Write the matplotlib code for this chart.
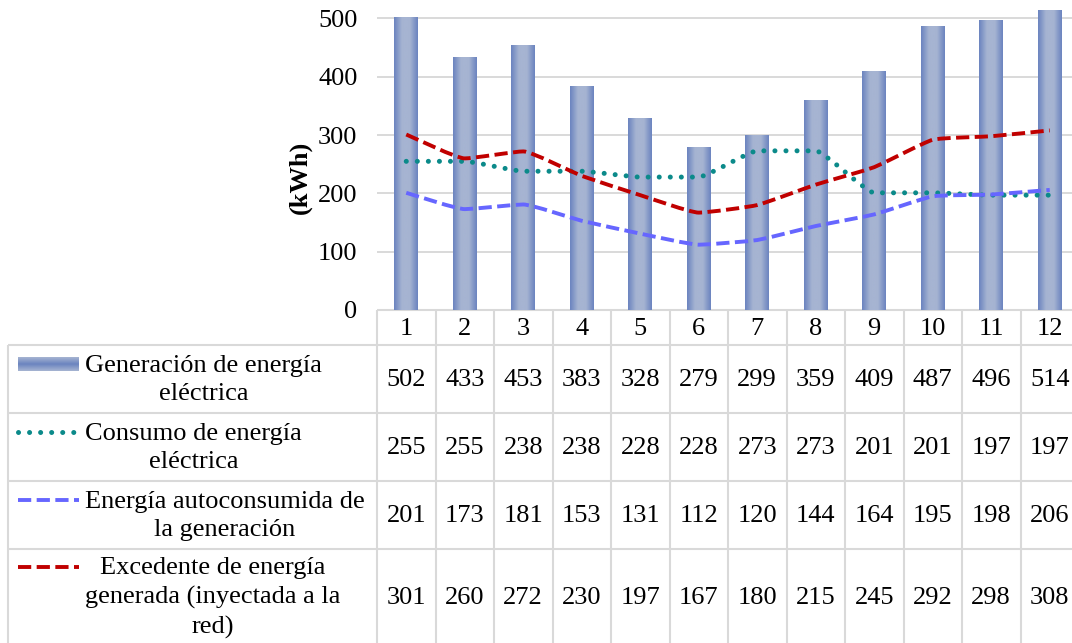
import numpy as np
import matplotlib
matplotlib.use("Agg")
import matplotlib.pyplot as plt
from matplotlib.path import Path
from matplotlib.patches import PathPatch
from matplotlib.colors import LinearSegmentedColormap
import matplotlib.transforms as mtransforms

# ---- data ----
months = list(range(1, 13))
generacion = [502, 433, 453, 383, 328, 279, 299, 359, 409, 487, 496, 514]
consumo = [255, 255, 238, 238, 228, 228, 273, 273, 201, 201, 197, 197]
autoconsumo = [201, 173, 181, 153, 131, 112, 120, 144, 164, 195, 198, 206]
excedente = [301, 260, 272, 230, 197, 167, 180, 215, 245, 292, 298, 308]

series_labels = [
    "Generación de energía\neléctrica",
    "Consumo de energía\neléctrica",
    "Energía autoconsumida de\nla generación",
    "Excedente de energía\ngenerada (inyectada a la\nred)",
]
y_ticks = [0, 100, 200, 300, 400, 500]
y_label = "(kWh)"

plt.rcParams["font.family"] = ["Liberation Serif", "DejaVu Serif"]
FS = 19
GRID = "#D9D9D9"
BAR_EDGE = "#6B84BF"
BAR_MID = "#A6B4D2"
TEAL = "#0B8A8A"
BLUE = "#6666FF"
RED = "#C00000"

W, H = 1072, 643
fig = plt.figure(figsize=(W / 100, H / 100), dpi=100)

# pixel-space overlay used for the data table underneath the chart
tab = fig.add_axes([0, 0, 1, 1], zorder=0)
tab.set_xlim(0, W)
tab.set_ylim(H, 0)
tab.axis("off")

# plot area
px_left, px_right, px_bottom = 377, 1079, 310
ax = fig.add_axes([px_left / W, (H - px_bottom) / H,
                   (px_right - px_left) / W, px_bottom / H], zorder=1)
ax.patch.set_alpha(0)

# bars with a horizontal gradient fill
cmap = LinearSegmentedColormap.from_list("barfill", [BAR_EDGE, BAR_MID, BAR_MID, BAR_EDGE])
grad = np.linspace(0, 1, 64).reshape(1, -1)
bars = ax.bar(months, generacion, width=0.41, color="none", edgecolor="none", zorder=2)
for b in bars:
    x0, w, h = b.get_x(), b.get_width(), b.get_height()
    ax.imshow(grad, cmap=cmap, extent=[x0, x0 + w, 0, h], aspect="auto",
              interpolation="bicubic", zorder=2)


def smooth_path(xs, ys, reach=0.14):
    """Lightly rounded line through the points: cubic Bezier segments whose
    handles follow the local slope (flat at turning points) and extend only
    a fraction `reach` of the segment width."""
    x = np.asarray(xs, float)
    y = np.asarray(ys, float)
    n = len(x)
    hseg = np.diff(x)
    d = np.diff(y) / hseg
    m = np.zeros(n)
    m[0], m[-1] = d[0], d[-1]
    for k in range(1, n - 1):
        if d[k - 1] * d[k] > 0:
            m[k] = 0.5 * (d[k - 1] + d[k])
    verts = [(x[0], y[0])]
    codes = [Path.MOVETO]
    for i in range(n - 1):
        hh = hseg[i] * reach
        verts += [(x[i] + hh, y[i] + m[i] * hh),
                  (x[i + 1] - hh, y[i + 1] - m[i + 1] * hh),
                  (x[i + 1], y[i + 1])]
        codes += [Path.CURVE4] * 3
    return Path(verts, codes)


line_styles = [
    dict(color=TEAL, lw=3.6, ls=(0, (0.01, 2.2)), cap="round"),
    dict(color=BLUE, lw=2.8, ls=(0, (3.4, 1.4)), cap="butt"),
    dict(color=RED, lw=2.8, ls=(0, (3.4, 1.4)), cap="butt"),
]
for vals, st in zip([consumo, autoconsumo, excedente], line_styles):
    patch = PathPatch(smooth_path(months, vals), fill=False, edgecolor=st["color"],
                      lw=st["lw"], linestyle=st["ls"], zorder=3)
    patch.set_capstyle(st["cap"])
    ax.add_patch(patch)

ax.set_xlim(0.5, 12.5)
ax.set_ylim(0, 531.7)
ax.set_yticks(y_ticks)
ax.set_xticks([])
ax.yaxis.grid(True, color=GRID, lw=1.4)
ax.set_axisbelow(True)
ax.tick_params(axis="y", length=0, pad=14, labelsize=FS)
for s in ax.spines.values():
    s.set_visible(False)
ax.text(-0.1097, 0.429, y_label, transform=ax.transAxes, rotation=90,
        ha="center", va="center", fontsize=FS, fontweight="bold")

# ---- data table ----
blend = mtransforms.blended_transform_factory(ax.transData, tab.transData)
row_edges = [310, 345, 413, 481, 549, 652]
lkw = dict(color=GRID, lw=1.5, clip_on=False, solid_capstyle="butt")

# column separators
for xb in np.arange(0.5, 13.0, 1.0):
    tab.plot([xb, xb], [row_edges[0], row_edges[-1]], transform=blend, **lkw)
# header top line across the month columns
tab.plot([0.5, 12.5], [row_edges[0], row_edges[0]], transform=blend, **lkw)
# horizontal row lines spanning label column and month columns
for yb in row_edges[1:-1]:
    tab.plot([8, W + 20], [yb, yb], **lkw)
tab.plot([8, 8], [row_edges[1], row_edges[-1]], **lkw)

# header month numbers
hdr_c = 329
for m in months:
    tab.text(m, hdr_c, str(m), transform=blend, ha="center", va="center", fontsize=FS)

row_centers = [379, 447, 515, 597]
all_vals = [generacion, consumo, autoconsumo, excedente]
for rc, vals, lab in zip(row_centers, all_vals, series_labels):
    for m, v in zip(months, vals):
        tab.text(m, rc + 1.5, str(v), transform=blend, ha="center", va="center", fontsize=FS)
    tab.text(85, rc + 1, lab, ha="left", va="center", multialignment="center",
             fontsize=FS, linespacing=1.38)

# legend keys
key_x0, key_x1 = 18, 79
nlines = [lab.count("\n") + 1 for lab in series_labels]
key_y = [rc - (n - 1) * 15 for rc, n in zip(row_centers, nlines)]
key_grad = np.linspace(0, 1, 64).reshape(-1, 1)
tab.imshow(key_grad, cmap=LinearSegmentedColormap.from_list("k", [BAR_MID, BAR_EDGE, BAR_MID]),
           extent=[key_x0, key_x1, key_y[0] + 7, key_y[0] - 7], aspect="auto", zorder=2)
for ky, st in zip(key_y[1:], line_styles):
    ln, = tab.plot([key_x0, key_x1], [ky, ky], color=st["color"], lw=st["lw"],
                   linestyle=st["ls"])
    ln.set_dash_capstyle(st["cap"])
tab.set_xlim(0, W)
tab.set_ylim(H, 0)

fig.savefig("out.png", dpi=100)
